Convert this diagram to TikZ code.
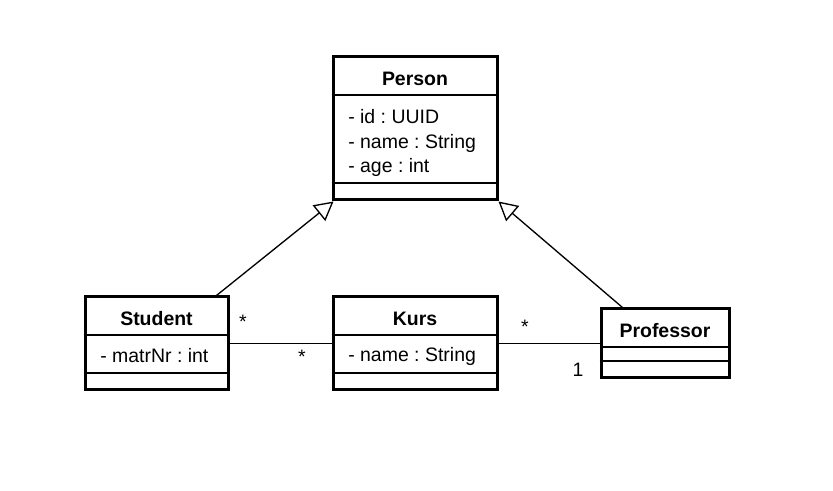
\documentclass[tikz,border=0pt]{standalone}
\usepackage{fontspec}
\setmainfont{Liberation Sans}
\usetikzlibrary{arrows.meta}
\usetikzlibrary{calc}
\frenchspacing

\tikzset{
  classbox/.style={draw, line width=2.25pt, inner sep=0pt},
  sepline/.style={line width=1pt},
  classname/.style={font=\fontsize{14.6}{18}\selectfont\bfseries, inner sep=0pt},
  attrs/.style={font=\fontsize{14.6}{18.4}\selectfont, align=left, anchor=west, inner sep=0pt},
  mult/.style={font=\fontsize{14.6}{18}\selectfont, inner sep=0pt},
  inherit/.style={line width=1pt, -{Triangle[open, length=14pt, width=15pt, line width=1pt]}},
  assoc/.style={line width=1pt}
}

\begin{document}
\begin{tikzpicture}[x=0.75pt,y=0.75pt,yscale=-1,xscale=1]
\useasboundingbox (0,0) rectangle (833,491);

%Class: Person
\node [classbox, minimum width=123pt, minimum height=107.25pt] (person) at (415,128.5) {};
\draw [sepline] (person.west |- 0,95) -- (person.east |- 0,95) ;
\draw [sepline] (person.west |- 0,183) -- (person.east |- 0,183) ;
\node [classname] (person-name) at (415,79) {Person};
\node [attrs] (person-attrs) at (348,143) {- id : UUID\\- name : String\\- age : int};

%Class: Student
\node [classbox, minimum width=107.25pt, minimum height=69.75pt] (student) at (156.5,343.5) {};
\draw [sepline] (student.west |- 0,335) -- (student.east |- 0,335) ;
\draw [sepline] (student.west |- 0,373) -- (student.east |- 0,373) ;
\node [classname] (student-name) at (156.5,319) {Student};
\node [attrs] (student-attrs) at (100,356) {- matrNr : int};

%Class: Kurs
\node [classbox, minimum width=123pt, minimum height=69.75pt] (kurs) at (415,343.5) {};
\draw [sepline] (kurs.west |- 0,335) -- (kurs.east |- 0,335) ;
\draw [sepline] (kurs.west |- 0,373) -- (kurs.east |- 0,373) ;
\node [classname] (kurs-name) at (415,319) {Kurs};
\node [attrs] (kurs-attrs) at (348,356) {- name : String};

%Class: Professor
\node [classbox, minimum width=96pt, minimum height=51.75pt] (professor) at (665,343.5) {};
\draw [sepline] (professor.west |- 0,347) -- (professor.east |- 0,347) ;
\draw [sepline] (professor.west |- 0,361) -- (professor.east |- 0,361) ;
\node [classname] (professor-name) at (665,331) {Professor};

%Generalisations
\draw [inherit] ($(student.north east)+(-13,0)$) -- ($(person.south west)+(2,0)$) ;
\draw [inherit] ($(professor.north west)+(23,0)$) -- ($(person.south east)+(0,0)$) ;

%Associations
\draw [assoc] (student.east) -- (kurs.west) ;
\draw [assoc] (kurs.east) -- (professor.west) ;

% Multiplicities
\node [mult] (m-student) at (243,322) {*};
\node [mult] (m-kurs-left) at (302,357) {*};
\node [mult] (m-kurs-right) at (525,327) {*};
\node [mult] (m-professor) at (578,370) {1};

\end{tikzpicture}
\end{document}
